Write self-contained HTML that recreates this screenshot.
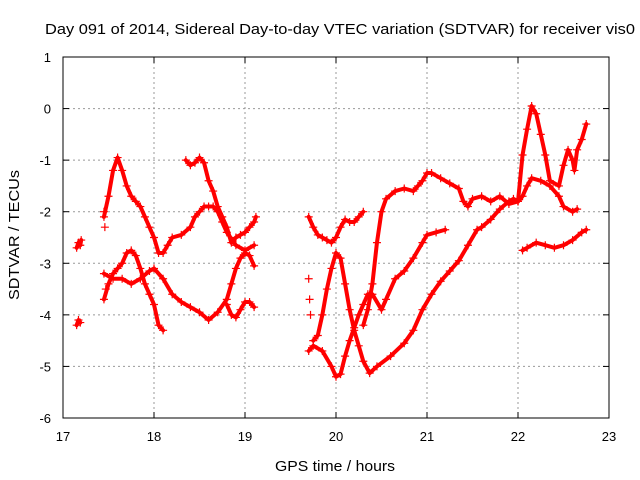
<!DOCTYPE html>
<html><head><meta charset="utf-8"><style>
body{margin:0;background:#fff;}
svg{display:block;font-family:"Liberation Sans",sans-serif;}
</style></head><body>
<svg id="chart" width="640" height="480">
<text x="45" y="34" font-size="15" textLength="590" lengthAdjust="spacingAndGlyphs">Day 091 of 2014, Sidereal Day-to-day VTEC variation (SDTVAR) for receiver vis0</text>
<text x="275" y="471" font-size="15" textLength="120" lengthAdjust="spacingAndGlyphs">GPS time / hours</text>
<text x="19" y="300" font-size="15" textLength="130" lengthAdjust="spacingAndGlyphs" transform="rotate(-90 19 300)">SDTVAR / TECUs</text>
<g id="grid"></g>
<g id="ticks"></g>
<g id="marks"></g>
<rect x="63" y="57" width="546" height="361" fill="none" stroke="#000" stroke-width="1"/>
</svg>
<script>
const xTicks=[17,18,19,20,21,22,23];
const yTicks=[1,0,-1,-2,-3,-4,-5,-6];
const tA=[17.15,17.17,17.19,17.2];const vA=[-2.7,-2.6,-2.65,-2.55];
const tA2=[17.15,17.17,17.19];const vA2=[-4.2,-4.1,-4.15];
const tB=[17.45,17.5,17.55,17.6,17.65,17.7,17.75,17.8,17.85,17.9,17.95,18.0,18.05,18.1,18.15,18.2,18.3,18.4,18.45,18.5,18.55,18.6,18.65,18.7,18.75,18.8,18.9,19.0,19.1];
const vB=[-2.1,-1.7,-1.2,-0.95,-1.2,-1.5,-1.7,-1.8,-1.9,-2.1,-2.3,-2.5,-2.8,-2.8,-2.65,-2.5,-2.45,-2.3,-2.1,-2.0,-1.9,-1.9,-1.9,-2.0,-2.2,-2.4,-2.65,-2.75,-2.65];
const tC=[18.35,18.4,18.45,18.5,18.55,18.6,18.65,18.7,18.75,18.8,18.85,18.9,18.95,19.0,19.05,19.1,19.12];
const vC=[-1.0,-1.1,-1.05,-0.95,-1.05,-1.4,-1.6,-1.9,-2.1,-2.3,-2.6,-2.5,-2.45,-2.4,-2.3,-2.2,-2.1];
const tD=[17.45,17.5,17.55,17.6,17.65,17.7,17.75,17.8,17.85,17.9,17.95,18.0,18.05,18.1];
const vD=[-3.7,-3.4,-3.2,-3.1,-3.0,-2.8,-2.75,-2.85,-3.1,-3.4,-3.6,-3.8,-4.2,-4.3];
const tE=[17.45,17.55,17.65,17.75,17.85,17.95,18.0,18.1,18.2,18.3,18.4,18.5,18.6,18.7,18.8,18.85,18.9,18.95,19.0,19.05,19.1];
const vE=[-3.2,-3.3,-3.3,-3.4,-3.3,-3.15,-3.1,-3.3,-3.6,-3.75,-3.85,-3.95,-4.1,-3.95,-3.7,-3.4,-3.1,-2.9,-2.8,-2.85,-3.05];
const tF=[18.8,18.85,18.9,18.95,19.0,19.05,19.1];
const vF=[-3.8,-4.0,-4.05,-3.9,-3.75,-3.75,-3.85];
const tG=[19.7,19.75,19.8,19.85,19.9,19.95,20.0,20.05,20.1,20.15,20.2,20.25,20.3];
const vG=[-2.1,-2.3,-2.45,-2.5,-2.55,-2.6,-2.5,-2.3,-2.15,-2.2,-2.2,-2.1,-2.0];
const tH=[20.3,20.35,20.4,20.45,20.5,20.55,20.65,20.75,20.85,20.9,20.95,21.0,21.05,21.15,21.25,21.35,21.4,21.45,21.5,21.6,21.7,21.8,21.9,22.0,22.05,22.1,22.15,22.25,22.35,22.45,22.5,22.6,22.65];
const vH=[-4.2,-3.9,-3.4,-2.6,-2.0,-1.75,-1.6,-1.55,-1.6,-1.5,-1.4,-1.25,-1.25,-1.35,-1.45,-1.55,-1.8,-1.9,-1.75,-1.7,-1.8,-1.7,-1.85,-1.8,-1.7,-1.5,-1.35,-1.4,-1.5,-1.7,-1.9,-2.0,-1.95];
const tI=[19.75,19.8,19.85,19.9,19.95,20.0,20.05,20.1,20.15,20.2,20.25,20.3,20.37,20.45,20.6,20.75,20.85,20.95,21.05,21.15,21.25,21.35,21.45,21.55,21.6,21.7,21.8,21.9,21.95,22.0];
const vI=[-4.5,-4.4,-4.0,-3.5,-3.1,-2.8,-2.9,-3.4,-3.9,-4.3,-4.6,-4.9,-5.13,-5.0,-4.8,-4.55,-4.3,-3.9,-3.6,-3.35,-3.15,-2.95,-2.65,-2.35,-2.3,-2.15,-1.95,-1.8,-1.75,-1.8];
const tJ=[19.7,19.75,19.85,19.95,20.0,20.05,20.1,20.15,20.2,20.25,20.3,20.35,20.4,20.5,20.55,20.65,20.75,20.85,20.95,21.0,21.1,21.2];
const vJ=[-4.7,-4.6,-4.7,-5.0,-5.2,-5.15,-4.8,-4.5,-4.25,-4.0,-3.8,-3.6,-3.6,-3.9,-3.7,-3.3,-3.15,-2.9,-2.6,-2.45,-2.4,-2.35];
const tK=[22.0,22.05,22.1,22.15,22.2,22.25,22.3,22.35,22.45,22.5,22.55,22.6,22.62,22.65,22.7,22.75];
const vK=[-1.8,-0.9,-0.4,0.05,-0.1,-0.5,-0.9,-1.4,-1.5,-1.1,-0.8,-1.0,-1.2,-0.8,-0.6,-0.3];
const tL=[22.05,22.1,22.2,22.3,22.4,22.5,22.6,22.7,22.75];
const vL=[-2.75,-2.7,-2.6,-2.65,-2.7,-2.65,-2.55,-2.4,-2.35];
const tM=[17.45,17.46,17.47,19.7,19.71,19.72];
const vM=[-2.0,-2.3,-3.5,-3.3,-3.7,-4.0];
const ns="http://www.w3.org/2000/svg";
const X=t=>63+(t-17)*91;
const Y=v=>57+(1-v)*51.57;
const grid=document.getElementById('grid'),ticks=document.getElementById('ticks'),marks=document.getElementById('marks');
function mk(tag,attrs,parent){const e=document.createElementNS(ns,tag);for(const k in attrs)e.setAttribute(k,attrs[k]);parent.appendChild(e);return e;}
xTicks.forEach(t=>{const x=X(t);
 if(t>17&&t<23){const g=mk('line',{x1:x,x2:x,y1:57,y2:418,stroke:'#999','stroke-dasharray':'2,3'},grid);
 
 }
 const tl=mk('text',{x:x,y:441,'font-size':13,'text-anchor':'middle'},ticks);tl.textContent=t;
 
 
 mk('line',{x1:x,x2:x,y1:418,y2:412,stroke:'#000'},ticks);mk('line',{x1:x,x2:x,y1:57,y2:63,stroke:'#000'},ticks);});
yTicks.forEach(v=>{const y=Y(v);
 if(v<1&&v>-6){const g=mk('line',{x1:63,x2:609,y1:y,y2:y,stroke:'#999','stroke-dasharray':'2,3'},grid);
 
 }
 const tl=mk('text',{x:51,y:y+5,'font-size':13,'text-anchor':'end'},ticks);tl.textContent=v;
 
 
 mk('line',{x1:63,x2:69,y1:y,y2:y,stroke:'#000'},ticks);mk('line',{x1:609,x2:603,y1:y,y2:y,stroke:'#000'},ticks);});
const series=[[tA,vA],[tA2,vA2],[tB,vB],[tC,vC],[tD,vD],[tE,vE],[tF,vF],[tG,vG],[tH,vH],[tI,vI],[tJ,vJ],[tK,vK],[tL,vL],[tM,vM]];
series.forEach((s,i)=>{const [ts,vs]=s;
 if(i!==13){const pts=ts.map((t,j)=>X(t)+','+Y(vs[j])).join(' ');
 const pl=mk('polyline',{points:pts,fill:'none',stroke:'#f00','stroke-width':4,'stroke-linejoin':'round','stroke-linecap':'round'},marks);
 
 }
 ts.forEach((t,j)=>{const x=X(t),y=Y(vs[j]);
  const p=mk('path',{d:`M${x-4},${y}H${x+4}M${x},${y-4}V${y+4}`,stroke:'#f00','stroke-width':1.2},marks);
  
  });});
</script>
</body></html>
